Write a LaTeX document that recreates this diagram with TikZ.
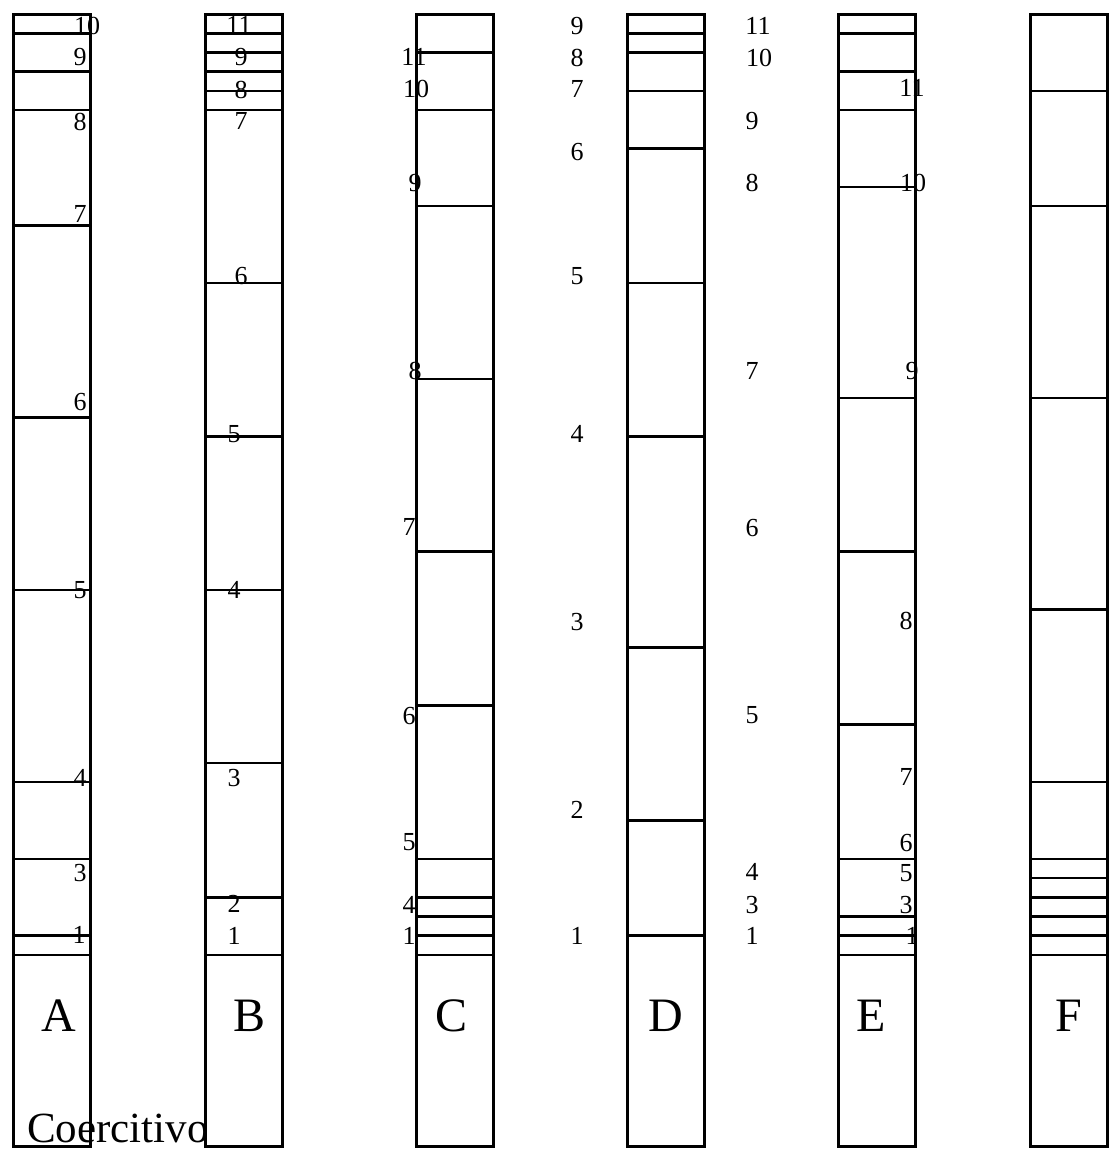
\documentclass[tikz,border=0pt]{standalone}
\usepackage{fontspec}
\setmainfont{Liberation Serif}
\begin{document}
\begin{tikzpicture}[x=1pt,y=-1pt,
  colbox/.style={draw=black,line width=3pt},
  sepline/.style={draw=black,line width=2.6pt},
  num/.style={inner sep=0pt,font=\fontsize{26}{26}\selectfont},
  letter/.style={inner sep=0pt,font=\fontsize{48}{48}\selectfont},
  caption/.style={inner sep=0pt,anchor=base west,font=\fontsize{43}{43}\selectfont}]
\useasboundingbox (0,0) rectangle (1112,1151);
\def\g{19.2}
\def\top{14}
\def\w{77}
% columns: left x and list of separator grid indices
\foreach \cx/\lst in {13/{1,3,5,11,21,30,40,44,48,49},
                      205/{1,2,3,4,5,14,22,30,39,46,49},
                      416/{2,5,10,19,28,36,44,46,47,48,49},
                      627/{1,2,4,7,14,22,33,42,48},
                      838/{1,3,5,9,20,28,37,44,47,48,49},
                      1030/{4,10,20,31,40,44,45,46,47,48,49}}{
  \foreach \k in \lst {
    \draw[sepline] (\cx,{\top+\k*\g}) -- ({\cx+\w},{\top+\k*\g});
  }
  \draw[colbox] (\cx,\top) rectangle ({\cx+\w},{\top+59*\g});
}
% column A labels
\foreach \t/\x/\y [count=\i] in {10/87/26,9/80/57,8/80/122,7/80/214,6/80/402,5/80/590,4/80/778,3/80/873,1/79/935}
  \node[num] (a\i) at (\x,\y) {\t};
% column B labels
\foreach \t/\x/\y [count=\i] in {11/239/25,9/241/57,8/241/90,7/241/121,6/241/276,5/234/434,4/234/590,3/234/778,2/234/904,1/234/936}
  \node[num] (b\i) at (\x,\y) {\t};
% column C labels
\foreach \t/\x/\y [count=\i] in {11/414/57,10/416/89,9/415/183,8/415/371,7/409/527,6/409/716,5/409/842,4/409/905,1/409/936}
  \node[num] (c\i) at (\x,\y) {\t};
% column D left labels
\foreach \t/\x/\y [count=\i] in {9/577/26,8/577/58,7/577/89,6/577/152,5/577/276,4/577/434,3/577/622,2/577/810,1/577/936}
  \node[num] (dl\i) at (\x,\y) {\t};
% column D right labels
\foreach \t/\x/\y [count=\i] in {11/758/26,10/759/58,9/752/121,8/752/183,7/752/371,6/752/528,5/752/715,4/752/872,3/752/905,1/752/936}
  \node[num] (dr\i) at (\x,\y) {\t};
% column E labels
\foreach \t/\x/\y [count=\i] in {11/912/88,10/913/183,9/912/371,8/906/621,7/906/777,6/906/843,5/906/873,3/906/905,1/912/936}
  \node[num] (e\i) at (\x,\y) {\t};
% column letters
\node[letter] (LA) at (59,1016) {A};
\node[letter] (LB) at (250,1016) {B};
\node[letter] (LC) at (452,1016) {C};
\node[letter] (LD) at (666,1016) {D};
\node[letter] (LE) at (871,1016) {E};
\node[letter] (LF) at (1069,1016) {F};
\node[caption] (coer) at (27,1142) {Coercitivo};
\end{tikzpicture}
\end{document}
